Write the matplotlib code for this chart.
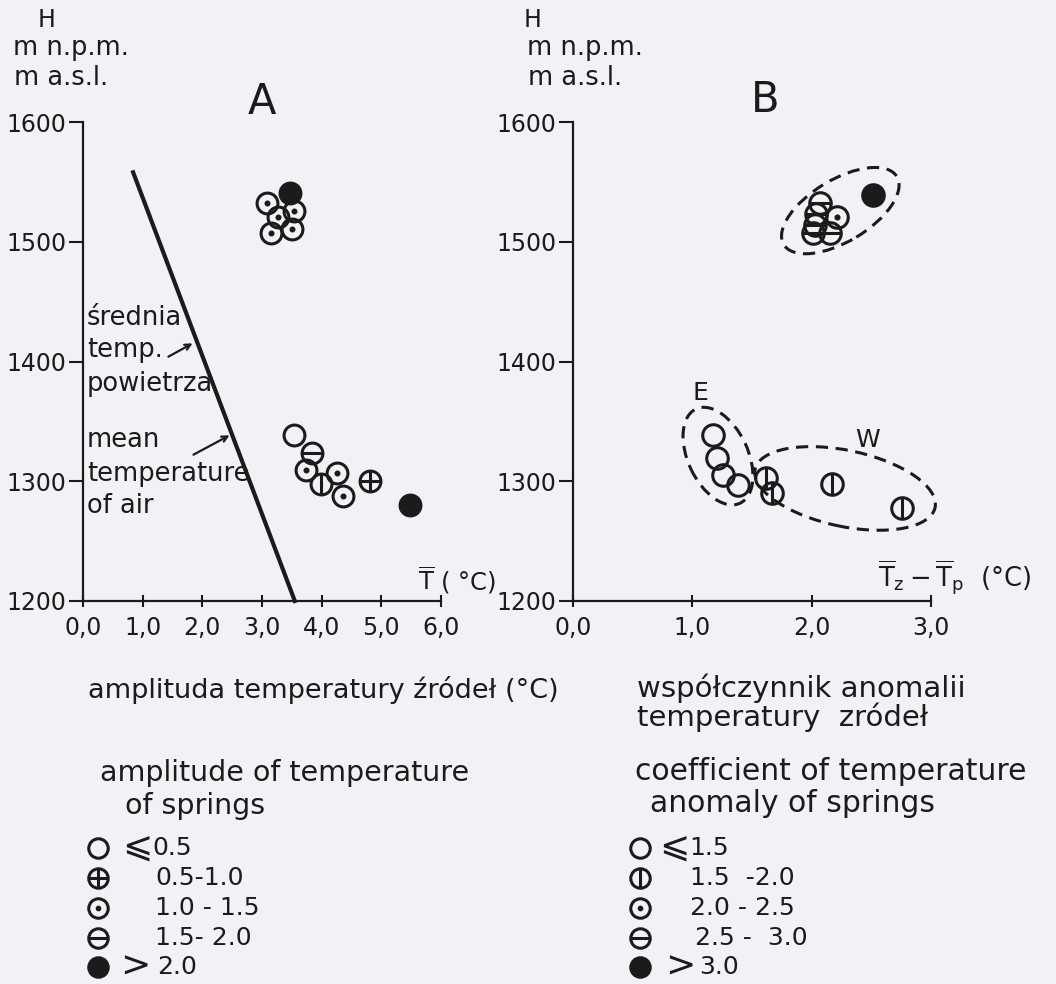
import matplotlib
matplotlib.use('Agg')
import matplotlib.pyplot as plt
import matplotlib.transforms as mtrans
from matplotlib.patches import Ellipse

plt.rcParams['font.family'] = ['DejaVu Sans']

INK = '#1c1a1a'
PAPER = '#f1f2f6'

# panel A: amplitude of spring temperature vs altitude
a_x = [3.47, 3.08, 3.53, 3.27, 3.15, 3.50, 3.53, 3.84, 3.74, 3.99, 4.25, 4.36, 4.81, 5.48]
a_h = [1541, 1532, 1526, 1521, 1507, 1511, 1339, 1324, 1309, 1298, 1307, 1288, 1300, 1280]
a_kind = ['full', 'dot', 'dot', 'dot', 'dot', 'dot', 'open', 'minus', 'dot', 'bar',
          'dot', 'dot', 'plus', 'full']
air_x = [0.84, 3.55]
air_h = [1558, 1200]

# panel B: anomaly coefficient vs altitude
b_x = [2.51, 2.07, 2.04, 2.21, 2.03, 2.01, 2.15, 1.17, 1.21, 1.26, 1.38, 1.62, 1.67, 2.17, 2.76]
b_h = [1539, 1532, 1523, 1521, 1514, 1507, 1507, 1339, 1319, 1305, 1297, 1303, 1290, 1298, 1278]
b_kind = ['full', 'minus', 'minus', 'dot', 'minus', 'minus', 'minus', 'open', 'open', 'open',
          'open', 'bar', 'bar', 'bar', 'bar']

y_ticks = [1200, 1300, 1400, 1500, 1600]
a_xticks = [0, 1, 2, 3, 4, 5, 6]
b_xticks = [0, 1, 2, 3]

legend_a = ['open', 'plus', 'dot', 'minus', 'full']
legend_a_sign = ['\u2a7d', '', '', '', '>']
legend_a_txt = ['0.5', '0.5-1.0', '1.0 - 1.5', '1.5- 2.0', '2.0']
legend_b = ['open', 'bar', 'dot', 'minus', 'full']
legend_b_sign = ['\u2a7d', '', '', '', '>']
legend_b_txt = ['1.5', '1.5  -2.0', '2.0 - 2.5', '2.5 -  3.0', '3.0']


def spring(ax, xs, ys, kinds, ms=15, mew=2.2, **kw):
    for x, y, k in zip(xs, ys, kinds):
        ax.plot(x, y, 'o', ms=ms, mfc=INK if k == 'full' else 'none', mec=INK,
                mew=mew, zorder=5, clip_on=False, **kw)
        if k == 'dot':
            ax.plot(x, y, 'o', ms=ms * 0.22, color=INK, zorder=6, clip_on=False, **kw)
        elif k == 'plus':
            ax.plot(x, y, '+', ms=ms * 0.92, mew=mew, color=INK, zorder=6, clip_on=False, **kw)
        elif k == 'minus':
            ax.plot(x, y, '_', ms=ms * 0.92, mew=mew, color=INK, zorder=6, clip_on=False, **kw)
        elif k == 'bar':
            ax.plot(x, y, '|', ms=ms * 0.92, mew=mew, color=INK, zorder=6, clip_on=False, **kw)


fig = plt.figure(figsize=(10.56, 9.84), dpi=100, facecolor=PAPER)

W, H = 1056, 984
axA = fig.add_axes([83 / W, (H - 601) / H, 358 / W, 479 / H])
axB = fig.add_axes([573 / W, (H - 601) / H, 358 / W, 479 / H])

for ax, xt in [(axA, a_xticks), (axB, b_xticks)]:
    ax.set_facecolor('none')
    ax.set_xlim(xt[0], xt[-1])
    ax.set_ylim(1200, 1600)
    for s in ['top', 'right']:
        ax.spines[s].set_visible(False)
    for s in ['left', 'bottom']:
        ax.spines[s].set_linewidth(1.6)
        ax.spines[s].set_color(INK)
    ax.set_yticks(y_ticks)
    ax.set_yticklabels([str(v) for v in y_ticks])
    ax.set_xticks(xt)
    ax.set_xticklabels(['%d,0' % v for v in xt])
    ax.tick_params(axis='y', direction='out', length=10, width=1.5, pad=2,
                   labelsize=17, colors=INK)
    ax.tick_params(axis='x', direction='inout', length=8, width=1.5, pad=7,
                   labelsize=17, colors=INK)

axA.plot(air_x, air_h, color=INK, lw=3, clip_on=False, zorder=3)
spring(axA, a_x, a_h, a_kind)
spring(axB, b_x, b_h, b_kind, ms=15.5)

# dashed groupings in panel B (sizes in pixels)
groups = [(2.24, 1526, 132, 62, 31), (1.215, 1321, 104, 60, -65), (2.28, 1294, 184, 76, -12)]
for gx, gh, gw, gt, ang in groups:
    tr = fig.dpi_scale_trans + mtrans.ScaledTranslation(gx, gh, axB.transData)
    axB.add_patch(Ellipse((0, 0), gw / 100, gt / 100, angle=ang, transform=tr,
                          fill=False, ec=INK, lw=2.2, ls=(0, (4, 2.5)), clip_on=False))

# overlay in pixel coordinates for labels and legends
ov = fig.add_axes([0, 0, 1, 1])
ov.set_xlim(0, W)
ov.set_ylim(H, 0)
ov.axis('off')

def t(x, y, s, size=17, ha='left', **kw):
    ov.text(x, y, s, fontsize=size, ha=ha, va='center', color=INK, **kw)

for x0, hx, lab, lx, ly in [(13, 47, 'A', 262, 102), (527, 533, 'B', 765, 100)]:
    t(hx, 20, 'H', ha='center')
    t(x0, 48, 'm n.p.m.', size=18.5)
    t(x0 + 1, 78, 'm a.s.l.', size=18.5)
    t(lx, ly, lab, size=30, ha='center')

for y, s in [(318, 'średnia'), (350, 'temp.'), (384, 'powietrza'),
             (440, 'mean'), (474, 'temperature'), (506, 'of air')]:
    t(87, y, s, size=18.5)

ov.annotate('', xy=(195, 342), xytext=(166, 358),
            arrowprops=dict(arrowstyle='->', color=INK, lw=1.6))
ov.annotate('', xy=(232, 434), xytext=(191, 456),
            arrowprops=dict(arrowstyle='->', color=INK, lw=1.6))

t(418, 580, r'$\overline{\mathrm{T}}$ ( °C)', size=17.5)
t(878, 578, r'$\overline{\mathrm{T}}_{\mathrm{z}}-\overline{\mathrm{T}}_{\mathrm{p}}$  (°C)', size=18.5)
t(700, 393, 'E', size=18, ha='center')
t(868, 440, 'W', size=18, ha='center')

t(88, 690, 'amplituda temperatury źródeł (°C)', size=19.5)
t(100, 773, 'amplitude of temperature', size=20.5)
t(125, 806, 'of springs', size=20.5)
t(637, 688, 'współczynnik anomalii', size=21)
t(637, 717, 'temperatury  zródeł', size=21)
t(635, 772, 'coefficient of temperature', size=21.5)
t(650, 804, 'anomaly of springs', size=21.5)

rows = [848, 878, 908, 938, 967]
legends = [(legend_a, legend_a_sign, legend_a_txt, 98, [122, 0, 0, 0, 120],
            [152, 155, 155, 155, 157]),
           (legend_b, legend_b_sign, legend_b_txt, 640, [659, 0, 0, 0, 665],
            [689, 690, 690, 695, 699])]
for kinds, signs, txts, mx, sx, tx in legends:
    for k, sg, s, y, x1, x2 in zip(kinds, signs, txts, rows, sx, tx):
        spring(ov, [mx], [y], [k], ms=14)
        if sg:
            t(x1, y, sg, size=26)
        t(x2, y, s, size=18)

fig.savefig('out.png', dpi=100, facecolor=PAPER)
